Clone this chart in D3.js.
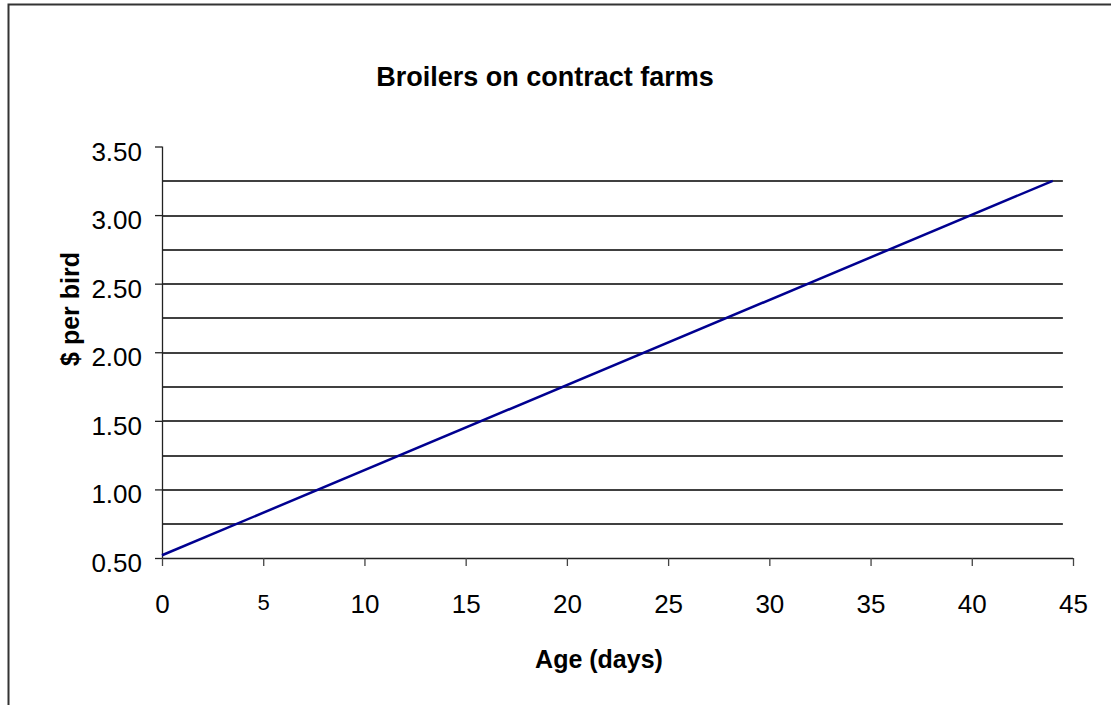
<!DOCTYPE html>
<html>
<head>
<meta charset="utf-8">
<script src="https://cdn.jsdelivr.net/npm/d3@7"></script>
<style>
  body { margin: 0; background: #fff; }
  svg text { font-family: Arial, 'Liberation Sans', sans-serif; fill: #000; }
</style>
</head>
<body>
<div id="chart"></div>
<script>
// data
const ages = [0, 44]
const costs = [0.52, 3.25]
const xTicks = [0, 5, 10, 15, 20, 25, 30, 35, 40, 45]
const yTicks = [0.5, 1, 1.5, 2, 2.5, 3, 3.5]
const gridValues = [0.75, 1, 1.25, 1.5, 1.75, 2, 2.25, 2.5, 2.75, 3, 3.25]

const totalWidth = 1111
const totalHeight = 705
const margin = { top: 146.5, left: 162, right: 38, bottom: 147 }
const width = totalWidth - margin.left - margin.right
const height = totalHeight - margin.top - margin.bottom

const root = d3
  .select('#chart')
  .append('svg')
  .attr('width', totalWidth)
  .attr('height', totalHeight)

// outer frame (only left and top show)
root
  .append('path')
  .attr('d', 'M8.5,705 L8.5,4.5 L1111,4.5')
  .attr('fill', 'none')
  .attr('stroke', '#333')
  .attr('stroke-width', 2)

const svg = root
  .append('g')
  .attr('transform', 'translate(' + margin.left + ',' + margin.top + ')')

const xScale = d3.scaleLinear().domain([0, 45]).range([0, width])
const yScale = d3.scaleLinear().domain([0.5, 3.5]).range([height, 0])

// gridlines
svg
  .selectAll('.grid')
  .data(gridValues)
  .enter()
  .append('line')
  .attr('class', 'grid')
  .attr('x1', 1)
  .attr('x2', xScale(44.5))
  .attr('y1', d => Math.round(yScale(d)) + 0.5)
  .attr('y2', d => Math.round(yScale(d)) + 0.5)
  .attr('stroke', '#000')
  .attr('stroke-width', 1.4)

// y axis
const yAxis = d3
  .axisLeft(yScale)
  .tickValues(yTicks)
  .tickSize(7)
  .tickPadding(13)
  .tickFormat(d3.format('.2f'))

const yG = svg.append('g').attr('class', 'axis y-axis').call(yAxis)
yG.select('.domain').attr('d', 'M0.5,0V' + height).attr('stroke', '#222').attr('stroke-width', 1.3)
yG.selectAll('.tick line').attr('stroke', '#222').attr('stroke-width', 1.3)
yG.selectAll('.tick text').style('font-size', '26px').attr('dy', 13.5)

// x axis
const xAxis = d3
  .axisBottom(xScale)
  .tickValues(xTicks)
  .tickSize(8)

const xG = svg
  .append('g')
  .attr('class', 'axis x-axis')
  .attr('transform', 'translate(0,' + height + ')')
  .call(xAxis)
xG.select('.domain').attr('d', 'M0,0.5H' + width).attr('stroke', '#222').attr('stroke-width', 1.3)
xG.selectAll('.tick line').attr('stroke', '#444').attr('stroke-width', 1.3)
xG.selectAll('.tick text')
  .style('font-size', d => (d === 5 ? '22px' : '26px'))
  .attr('dy', 0)
  .attr('y', d => (d === 5 ? 52 : 55))

// the line
const line = d3
  .line()
  .x((d, i) => xScale(ages[i]))
  .y(d => yScale(d))

svg
  .append('path')
  .datum(costs)
  .attr('d', line)
  .attr('fill', 'none')
  .attr('stroke', '#000090')
  .attr('stroke-width', 2.5)

// titles
root
  .append('text')
  .attr('x', 545)
  .attr('y', 86)
  .attr('text-anchor', 'middle')
  .style('font-size', '27px')
  .style('font-weight', 'bold')
  .text('Broilers on contract farms')

root
  .append('text')
  .attr('x', 599)
  .attr('y', 668)
  .attr('text-anchor', 'middle')
  .style('font-size', '25px')
  .style('font-weight', 'bold')
  .text('Age (days)')

root
  .append('text')
  .attr('transform', 'translate(79,309) rotate(-90)')
  .attr('text-anchor', 'middle')
  .style('font-size', '25px')
  .style('font-weight', 'bold')
  .text('$ per bird')
</script>
</body>
</html>
